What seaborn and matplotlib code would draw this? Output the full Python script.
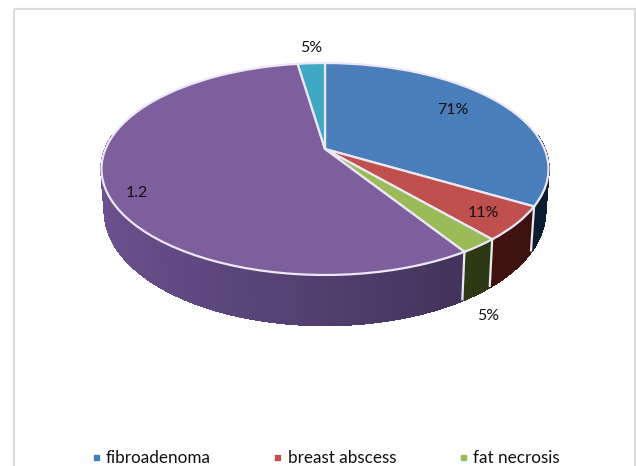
import numpy as np
import matplotlib
matplotlib.use("Agg")
import matplotlib.pyplot as plt
import seaborn as sns
from matplotlib.collections import PolyCollection
from matplotlib.colors import to_rgb
from matplotlib.lines import Line2D
from matplotlib.patches import Rectangle
from matplotlib.transforms import Transform

categories = ["fibroadenoma", "breast abscess", "fat necrosis", "", ""]
values = [0.71, 0.11, 0.05, 1.2, 0.05]
value_labels = ["71%", "11%", "5%", "1.2", "5%"]
top_colors = ["#4a7ebb", "#c0504d", "#9bbb59", "#7e5f9e", "#3fa9c4"]
wall_colors = ["#17375e", "#6e211d", "#4a5f20", "#6c5392", "#256a7c"]

sns.set_theme(style="white")
plt.rcParams["font.family"] = ["Lato", "DejaVu Sans"]

EDGE = "#ece8f4"


class DiscProjection(Transform):
    """Perspective view of the unit disc, tilted away from the viewer."""

    input_dims = 2
    output_dims = 2

    def __init__(self, cx=325.0, cy=149.0, sx=219.5, sy=102.2, k=0.1887):
        super().__init__()
        self.cx, self.cy, self.sx, self.sy, self.k = cx, cy, sx, sy, k

    def transform_non_affine(self, xy):
        xy = np.asarray(xy, dtype=float)
        d = 1 + self.k * xy[:, 1]
        return np.column_stack((self.cx + self.sx * xy[:, 0] / d,
                                self.cy - self.sy * xy[:, 1] / d))


def lower_rim(pts, unit):
    """Matching outline on the underside of the disc."""
    out = pts.copy()
    out[:, 0] = 325.0 + 0.985 * (pts[:, 0] - 325.0)
    out[:, 1] = pts[:, 1] + 40.0 - 10.0 * unit[:, 1]
    return out


fig = plt.figure(figsize=(6.36, 4.66), dpi=100, facecolor="white")
ax = fig.add_axes([0, 0, 1, 1])

wedges, _ = ax.pie(values, colors=top_colors, startangle=90, counterclock=False,
                   wedgeprops=dict(edgecolor=EDGE, linewidth=1.6))

ax.set_aspect("auto")
ax.set_xlim(0, 636)
ax.set_ylim(466, 0)
ax.axis("off")

proj = DiscProjection()
for w in wedges:
    w.set_transform(proj + ax.transData)
    w.set_zorder(5)

# side wall: thin shaded strips along the visible part of every slice
for w, base in zip(wedges, wall_colors):
    t = np.radians(np.linspace(w.theta1, w.theta2, 160))
    unit = np.column_stack((np.cos(t), np.sin(t)))
    up = proj.transform(unit)
    low = lower_rim(up, unit)
    polys, cols = [], []
    rgb = np.array(to_rgb(base))
    for i in range(len(t) - 1):
        if unit[i, 1] > 0.12 and unit[i + 1, 1] > 0.12:
            continue
        polys.append([up[i], up[i + 1], low[i + 1], low[i]])
        shade = 1.0 - 0.5 * (unit[i, 0] + 1) / 2
        cols.append(tuple(np.clip(rgb * shade, 0, 1)))
    if polys:
        ax.add_collection(PolyCollection(polys, facecolors=cols, edgecolors=cols,
                                         linewidths=1.2, antialiaseds=False, zorder=2))

# separators on the wall where visible slices meet
for w in wedges:
    a = np.radians(w.theta1)
    unit = np.array([[np.cos(a), np.sin(a)]])
    if unit[0, 1] < 0:
        up = proj.transform(unit)
        low = lower_rim(up, unit)
        ax.plot([up[0, 0], low[0, 0]], [up[0, 1], low[0, 1]],
                color=EDGE, lw=1.6, zorder=3, solid_capstyle="butt")

# data labels
label_pos = [(453, 110), (483, 213), (488, 316), (137, 193), (311, 48)]
for (x, y), s in zip(label_pos, value_labels):
    ax.text(x, y, s, ha="center", va="center", fontsize=11.4, color="#111111", zorder=6)

# chart frame
ax.add_patch(Rectangle((13.5, 9.0), 621.5, 480, fill=False, edgecolor="#dcdcdc", lw=1.6,
                       zorder=1))

handles = [Line2D([], [], linestyle="", marker="s", markersize=3.6, color=c)
           for c in top_colors[:3]]
fig.legend(handles, categories[:3], ncol=3, frameon=False, fontsize=12.3,
           loc="center", bbox_to_anchor=(0.5 + 7 / 636, 1 - 458 / 466), columnspacing=3.6,
           handlelength=0.6, handletextpad=0.3, labelcolor="#111111")

fig.savefig("out.png", dpi=100)
